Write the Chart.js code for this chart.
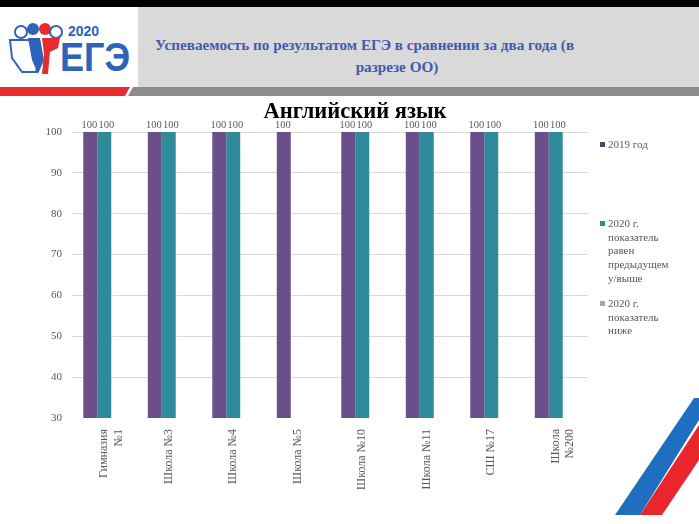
<!DOCTYPE html>
<html>
<head>
<meta charset="utf-8">
<script src="https://cdn.jsdelivr.net/npm/chart.js@4"></script>
<style>
  html, body { margin: 0; padding: 0; background: #fff; }
  #slide { position: relative; width: 699px; height: 524px; overflow: hidden; background: #fff; }
  .abs { position: absolute; }
  #topbar { left: 0; top: 0; width: 699px; height: 7px; background: #000; }
  #head { left: 138px; top: 7px; width: 561px; height: 80px; background: #d9d9d9; }
  #bottombar { left: 0; top: 515px; width: 699px; height: 9px; background: #000; }
  .htitle { font-family: "Liberation Serif", "DejaVu Serif", serif; font-weight: bold; font-size: 15.2px; color: #3d5cb0; white-space: nowrap; }
  #chart { position: absolute; left: 0; top: 0; }
</style>
</head>
<body>
<div id="slide">
  <div class="abs" id="topbar"></div>
  <div class="abs" id="head"></div>
  <svg class="abs" style="left:0;top:0" width="699" height="524">
    <!-- header stripe -->
    <polygon points="0,87 130,87 125,96 0,96" fill="#e52d2d"/>
    <polygon points="133,87 699,87 699,96 128,96" fill="#8c8c8c"/>
    <!-- logo figures -->
    <circle cx="21" cy="32" r="6" fill="#fff" stroke="#2d63b8" stroke-width="2"/>
    <circle cx="33" cy="29" r="6" fill="#2d63b8"/>
    <circle cx="45" cy="29" r="6" fill="#e52d2d"/>
    <circle cx="56" cy="32" r="6" fill="#fff" stroke="#2d63b8" stroke-width="2"/>
    <polygon points="10,40 32,40 40,52 36,72 22,72 12,58" fill="#fff" stroke="#2d63b8" stroke-width="2"/>
    <polygon points="28,38 40,38 44,60 38,74 32,60" fill="#2d63b8"/>
    <polygon points="42,38 60,38 58,48 50,52 48,74 42,74 44,54" fill="#e52d2d"/>
    <text x="68" y="36" font-family="Liberation Sans, Arial, sans-serif" font-weight="bold" font-size="14" fill="#2d63b8">2020</text>
    <text x="60" y="71" font-family="Liberation Sans, Arial, sans-serif" font-weight="bold" font-size="40" fill="#2d63b8" textLength="70" lengthAdjust="spacingAndGlyphs">ЕГЭ</text>
    <!-- flag stripes -->
    <polygon points="615,515 694,398 699,398 699,420 640,515" fill="#1f6fc0"/>
    <polygon points="640,515 699,425 699,460 662,515" fill="#e8262b"/>
  </svg>
  <div class="abs htitle" style="left:155px;top:36px;">Успеваемость по результатом ЕГЭ в сравнении за два года (в</div>
  <div class="abs htitle" style="left:297px;width:200px;text-align:center;top:58px;">разрезе ОО)</div>
  <canvas id="chart" width="699" height="524"></canvas>
</div>
<script>
  // chart data
  const chartTitle = 'Английский язык';
  const schools = [['Гимназия', '№1'], 'Школа №3', 'Школа №4', 'Школа №5', 'Школа №10', 'Школа №11', 'СШ №17', ['Школа', '№200']];
  const year2019 = [100, 100, 100, 100, 100, 100, 100, 100];
  const year2020Up = [100, 100, 100, null, 100, 100, 100, 100];
  const year2020Down = [null, null, null, null, null, null, null, null];
  const seriesNames = ['2019 год', '2020 г. показатель равен предыдущем у/выше', '2020 г. показатель ниже'];
  const legendLines = [['2019 год'], ['2020 г.', 'показатель', 'равен', 'предыдущем', 'у/выше'], ['2020 г.', 'показатель', 'ниже']];
  const yTicks = { min: 30, max: 100, step: 10 };

  const SERIF = '"Liberation Serif", "DejaVu Serif", serif';
  const TEXT_GREY = '#595959';

  // "100" above each bar
  const barValueLabels = {
    id: 'barValueLabels',
    afterDatasetsDraw(chart) {
      const ctx = chart.ctx;
      ctx.save();
      ctx.font = '10.5px ' + SERIF;
      ctx.fillStyle = TEXT_GREY;
      ctx.textAlign = 'center';
      ctx.textBaseline = 'bottom';
      chart.data.datasets.forEach((ds, i) => {
        const meta = chart.getDatasetMeta(i);
        meta.data.forEach((bar, j) => {
          const v = ds.data[j];
          if (v == null) return;
          ctx.fillText(String(v), bar.x + (i === 0 ? -1 : 2), bar.y - 2);
        });
      });
      ctx.restore();
    }
  };

  // title + Excel-style wrapped legend on the right
  const sideLegend = {
    id: 'sideLegend',
    afterDraw(chart) {
      const ctx = chart.ctx;
      ctx.save();
      ctx.font = 'bold 22.5px ' + SERIF;
      ctx.fillStyle = '#000';
      ctx.textAlign = 'center';
      ctx.textBaseline = 'middle';
      ctx.fillText(chartTitle, 355, 112);

      const tops = [145, 224, 304];
      const markerColors = ['#45456a', '#2f8a9a', '#a6a6a6'];
      ctx.font = '11px ' + SERIF;
      ctx.textAlign = 'left';
      legendLines.forEach((lines, i) => {
        ctx.fillStyle = markerColors[i];
        ctx.fillRect(600, tops[i] - 3, 5, 5);
        ctx.fillStyle = TEXT_GREY;
        lines.forEach((ln, k) => ctx.fillText(ln, 608, tops[i] + k * 13.8));
      });
      ctx.restore();
    }
  };

  new Chart(document.getElementById('chart'), {
    type: 'bar',
    data: {
      labels: schools,
      datasets: [
        { label: seriesNames[0], data: year2019, backgroundColor: '#6a4f8b' },
        { label: seriesNames[1], data: year2020Up, backgroundColor: '#2f8a9a' },
        { label: seriesNames[2], data: year2020Down, backgroundColor: '#a6a6a6' }
      ]
    },
    options: {
      responsive: false,
      animation: false,
      layout: { padding: { left: 0, right: 111, top: 132, bottom: 9 } },
      categoryPercentage: 0.65,
      barPercentage: 1,
      plugins: {
        legend: { display: false },
        title: { display: false },
        tooltip: { enabled: false }
      },
      scales: {
        x: {
          grid: { display: false },
          border: { display: false },
          ticks: {
            minRotation: 90, maxRotation: 90, autoSkip: false, padding: 3,
            color: TEXT_GREY, font: { family: SERIF, size: 12 }
          },
          afterFit(s) { s.height = 97; }
        },
        y: {
          min: yTicks.min, max: yTicks.max,
          border: { display: false },
          grid: {
            drawTicks: false,
            color: (c) => (c.tick && c.tick.value === yTicks.min ? 'rgba(0,0,0,0)' : '#d9d9d9')
          },
          ticks: {
            stepSize: yTicks.step, padding: 10,
            color: TEXT_GREY, font: { family: SERIF, size: 11 }
          },
          afterFit(s) { s.width = 72; }
        }
      }
    },
    plugins: [barValueLabels, sideLegend]
  });
</script>
</body>
</html>
